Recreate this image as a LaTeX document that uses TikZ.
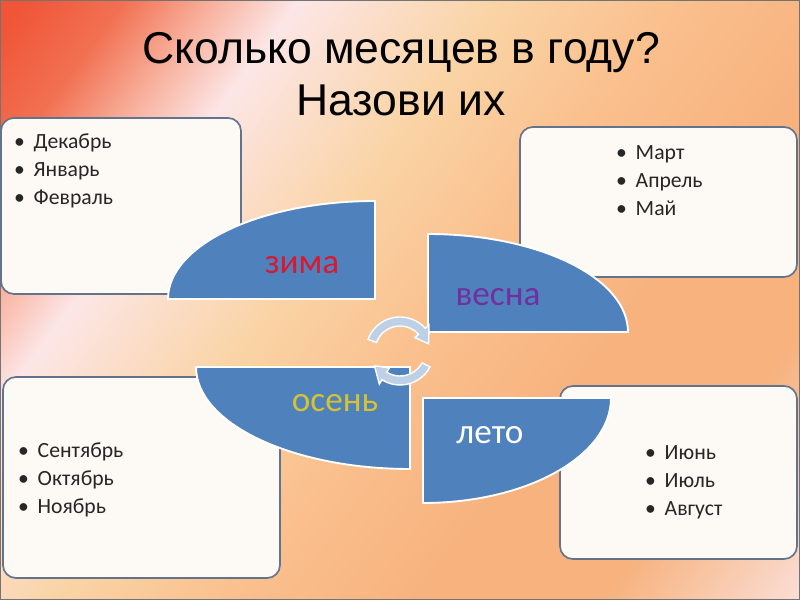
\documentclass[tikz,border=0pt]{standalone}
\usepackage{fontspec}
\setmainfont{Carlito}
\newfontfamily\titlefont{Liberation Sans}
\usetikzlibrary{positioning}

\definecolor{bgred}{RGB}{240,85,55}
\definecolor{bgsalmon}{RGB}{242,112,82}
\definecolor{bgrose}{RGB}{248,175,155}
\definecolor{bgpink}{RGB}{252,230,230}
\definecolor{bgpeach}{RGB}{250,212,166}
\definecolor{bgapricot}{RGB}{250,192,142}
\definecolor{bgorange}{RGB}{247,178,126}
\definecolor{bglight}{RGB}{250,222,214}
\definecolor{boxfill}{RGB}{253,249,244}
\definecolor{boxline}{RGB}{100,115,140}
\definecolor{seasonblue}{RGB}{79,129,189}
\definecolor{arrowblue}{RGB}{190,208,230}
\definecolor{zimared}{RGB}{215,25,50}
\definecolor{vesnapurple}{RGB}{112,48,160}
\definecolor{osenyellow}{RGB}{212,196,50}

\pgfdeclarehorizontalshading{slidebg}{100bp}{color(0bp)=(bgred); color(26bp)=(bgred); color(30bp)=(bgsalmon); color(33.5bp)=(bgrose); color(37bp)=(bgpink); color(45bp)=(bgpeach); color(52bp)=(bgapricot); color(60bp)=(bgorange); color(67bp)=(bgorange); color(75bp)=(bglight); color(100bp)=(bglight)}

\newcommand{\monthitem}[1]{\makebox[0.9em][l]{•}#1}

\begin{document}
\begin{tikzpicture}[
    x=0.03cm, y=-0.03cm,
    monthbox/.style={draw=boxline, line width=1.4pt, fill=boxfill, rounded corners=11pt},
    monthlist/.style={anchor=west, align=left, inner sep=0pt, text=black!85, font=\fontsize{18.5}{24}\selectfont},
    season/.style={fill=seasonblue, draw=white, line width=1.6pt},
    seasonlabel/.style={inner sep=0pt, font=\fontsize{30}{32}\selectfont},
    cyclearrow/.style={fill=arrowblue, draw=white, line width=1.2pt}
]
    \useasboundingbox (0,0) rectangle (800,600);
    % Slide background
    \begin{scope}
        \clip (0,0) rectangle (800,600);
        \begin{scope}[transform canvas={rotate around={-36.6:(400,300)}}]
            \shade[shading=slidebg] (-100,-200) rectangle (900,800);
        \end{scope}
    \end{scope}
    \draw[black!55, line width=1pt] (0.6,0.6) rectangle (799.4,599.4);

    % Title
    \node[align=center, font=\titlefont\fontsize{38}{44.4}\selectfont] (title) at (401,74) {Сколько месяцев в году?\\Назови их};

    % Month boxes
    \node[monthbox, minimum width=7.2cm, minimum height=5.28cm] (winterbox) at (121,206) {};
    \node[monthbox, minimum width=8.31cm, minimum height=4.5cm] (springbox) at (658.5,202) {};
    \node[monthbox, minimum width=8.31cm, minimum height=6.03cm] (autumnbox) at (141.5,477.5) {};
    \node[monthbox, minimum width=7.11cm, minimum height=5.19cm] (summerbox) at (678.5,472.5) {};

    \node[monthlist] (winterlist) at (14,171) {\monthitem{Декабрь}\\\monthitem{Январь}\\\monthitem{Февраль}};
    \node[monthlist] (springlist) at (616,181) {\monthitem{Март}\\\monthitem{Апрель}\\\monthitem{Май}};
    \node[monthlist] (autumnlist) at (18,480) {\monthitem{Сентябрь}\\\monthitem{Октябрь}\\\monthitem{Ноябрь}};
    \node[monthlist] (summerlist) at (645,482) {\monthitem{Июнь}\\\monthitem{Июль}\\\monthitem{Август}};

    % Seasons
    \path[season] (375,299) -- (168,299) arc[start angle=180, end angle=270, x radius=207, y radius=98] -- cycle;
    \path[season] (428,332) -- (428,234) arc[start angle=270, end angle=360, x radius=200, y radius=98] -- cycle;
    \path[season] (410,367) -- (196,367) arc[start angle=180, end angle=90, x radius=214, y radius=102] -- cycle;
    \path[season] (423,398) -- (611,398) arc[start angle=0, end angle=90, x radius=188, y radius=105] -- cycle;

    \node[seasonlabel, text=zimared] (winter) at (302,265) {зима};
    \node[seasonlabel, text=vesnapurple] (spring) at (498,297) {весна};
    \node[seasonlabel, text=osenyellow] (autumn) at (335,403) {осень};
    \node[seasonlabel, text=white] (summer) at (490,435) {лето};

    % Cycle arrows
    \coordinate (hub) at (400,351);
    \path[cyclearrow] ([shift={(-160:34)}]hub) arc[start angle=-160, end angle=-42, radius=34]
        -- ([shift={(-42:39)}]hub) -- ([shift={(-14:29.5)}]hub) -- ([shift={(-42:20)}]hub)
        -- ([shift={(-42:25)}]hub) arc[start angle=-42, end angle=-160, radius=25] -- cycle;
    \path[cyclearrow] ([shift={(28:34)}]hub) arc[start angle=28, end angle=122, radius=34]
        -- ([shift={(122:39)}]hub) -- ([shift={(150:29.5)}]hub) -- ([shift={(122:20)}]hub)
        -- ([shift={(122:25)}]hub) arc[start angle=122, end angle=28, radius=25] -- cycle;
\end{tikzpicture}
\end{document}
